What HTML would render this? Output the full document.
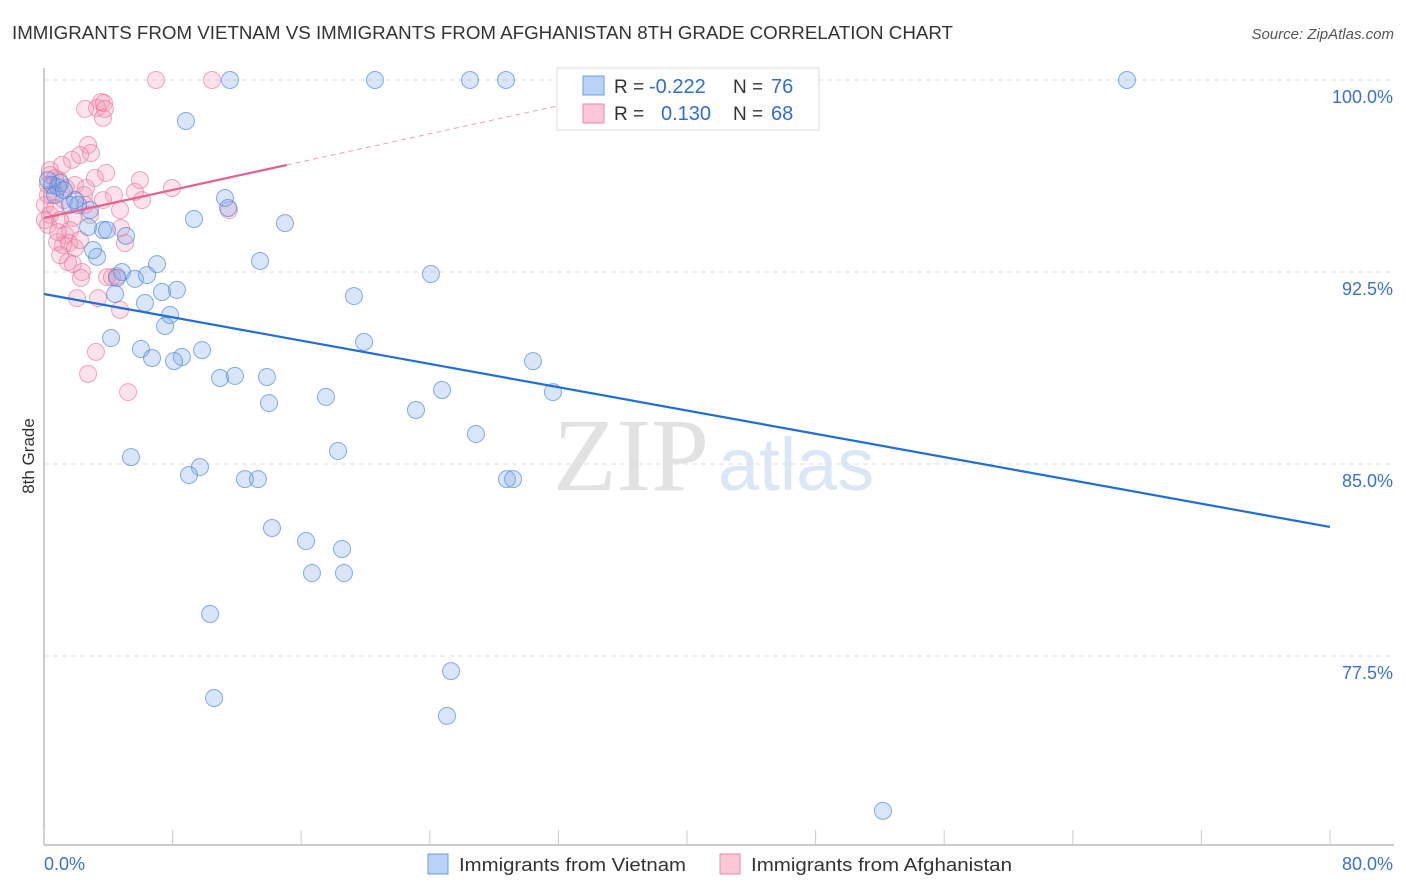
<!DOCTYPE html>
<html><head><meta charset="utf-8">
<style>
body{margin:0;background:#fff;width:1406px;height:892px;overflow:hidden;font-family:"Liberation Sans",sans-serif;}
svg{display:block}
</style></head>
<body>
<svg id="chart" width="1406" height="892">
<text x="12" y="39" font-size="18" fill="#333" textLength="941" lengthAdjust="spacingAndGlyphs">IMMIGRANTS FROM VIETNAM VS IMMIGRANTS FROM AFGHANISTAN 8TH GRADE CORRELATION CHART</text>
<text x="1394" y="39" font-size="15" fill="#555" font-style="italic" text-anchor="end">Source: ZipAtlas.com</text>
<g>
<text x="553" y="490" font-family="Liberation Serif,serif" font-size="104" fill="#e2e2e2">ZIP</text>
<text x="718" y="490" font-size="74" fill="#dbe6f6">atlas</text>
</g>
<g id="grid"></g>
<g id="axes"></g>
<g id="marks"></g>
<text transform="translate(34,456) rotate(-90)" font-size="17" fill="#333" text-anchor="middle">8th Grade</text>
<g>
<rect x="557" y="68" width="262" height="62" fill="#fff" stroke="#ddd"/>
<rect x="583" y="76" width="21" height="19" fill="#b8d3f7" stroke="#6b9de0"/>
<rect x="583" y="104" width="21" height="19" fill="#fcc6d6" stroke="#e88aa8"/>
<text x="614" y="93" font-size="19" fill="#333">R =</text>
<text x="649" y="93" font-size="20" fill="#2f6fd0">-0.222</text>
<text x="733" y="93" font-size="19" fill="#333">N =</text>
<text x="771" y="93" font-size="20" fill="#2f6fd0">76</text>
<text x="614" y="120" font-size="19" fill="#333">R =</text>
<text x="661" y="120" font-size="20" fill="#2f6fd0">0.130</text>
<text x="733" y="120" font-size="19" fill="#333">N =</text>
<text x="771" y="120" font-size="20" fill="#2f6fd0">68</text>
</g>
<g>
<rect x="428" y="854" width="20" height="20" fill="#b8d3f7" stroke="#6b9de0"/>
<text x="459" y="871" font-size="18" fill="#333" textLength="227" lengthAdjust="spacingAndGlyphs">Immigrants from Vietnam</text>
<rect x="720" y="854" width="20" height="20" fill="#fcc6d6" stroke="#e88aa8"/>
<text x="751" y="871" font-size="18" fill="#333" textLength="261" lengthAdjust="spacingAndGlyphs">Immigrants from Afghanistan</text>
</g>
</svg>
<script>
const yTicks=[100,92.5,85,77.5];
const yTickLabels=["100.0%","92.5%","85.0%","77.5%"];
const xTicks=[0,8,16,24,32,40,48,56,64,72,80];
const xEndLabels=["0.0%","80.0%"];
const vietX=[11.57,20.59,26.5,28.74,43.17,67.37,8.83,11.26,11.45,9.33,14.99,0.5,0.87,1.62,2.12,2.74,3.67,3.92,5.1,3.3,3.05,13.44,7.03,24.07,4.85,4.54,5.66,6.41,8.27,7.34,4.42,6.28,19.28,7.84,7.53,4.17,19.91,6.03,6.72,9.83,8.58,8.09,30.42,10.95,11.88,13.87,24.76,31.66,17.54,14.0,23.14,26.87,18.29,5.41,9.7,9.02,12.5,13.31,28.8,29.18,14.18,16.3,18.54,16.67,18.66,10.33,25.32,10.58,25.07,52.19,1.0,0.68,1.93,1.24,0.25,2.86];
const vietY=[100,100,100,100,100,100,98.4,95.39,95.0,94.57,94.41,95.9,95.82,95.12,95.12,94.26,94.14,94.14,93.91,93.09,93.36,92.93,92.81,92.42,92.5,92.27,92.23,92.38,91.8,91.72,91.64,91.29,91.56,90.82,90.39,89.92,89.77,89.49,89.14,89.45,89.18,89.02,89.02,88.36,88.44,88.4,87.89,87.81,87.62,87.38,87.11,86.17,85.51,85.27,84.88,84.57,84.41,84.41,84.41,84.41,82.5,81.99,81.68,80.74,80.74,79.14,76.91,75.86,75.16,71.45,95.98,95.51,95.31,95.7,96.09,94.92];
const afgX=[6.97,10.45,3.55,3.3,3.73,3.67,2.55,3.79,2.74,2.92,1.74,2.24,1.12,0.37,0.93,3.17,3.86,1.93,0.5,2.49,4.35,5.66,6.1,7.96,11.51,0.06,0.37,0.25,1.0,1.8,2.55,1.31,1.62,1.18,0.81,1.56,1.93,1.49,1.8,2.36,2.3,4.79,5.04,2.05,3.36,3.92,4.73,4.23,3.23,2.74,5.23,0.68,0.25,1.24,0.68,0.25,2.24,1.0,2.86,0.37,1.37,4.54,3.67,4.73,2.61,5.97,0.06,0.87];
const afgY=[100,100,99.14,98.91,99.1,98.52,98.87,98.87,97.46,97.15,96.88,97.07,96.68,96.29,96.09,96.17,96.37,95.9,95.51,95.51,95.51,95.63,95.31,95.78,94.92,95.12,94.73,94.34,94.53,94.61,95.12,93.95,94.14,93.55,93.67,93.63,93.44,92.89,92.81,92.5,92.27,94.22,93.63,91.48,91.48,92.3,91.02,92.3,89.38,88.52,87.81,96.17,95.9,95.31,95.0,95.51,93.75,93.16,94.73,96.48,95.78,92.34,95.31,94.92,95.78,96.09,94.53,94.06];
const vietTrendX=[0,80];
const vietTrendY=[91.64,82.54];
const afgTrendX=[0,15.1];
const afgTrendY=[94.61,96.68];
const afgDashX=[15.1,34];
const afgDashY=[96.68,99.27];

const X0=44,X1=1330,Y100=80,PXPER=25.6;
const sx=v=>X0+v/80*(X1-X0);
const sy=v=>Y100+(100-v)*PXPER;
const NS="http://www.w3.org/2000/svg";
function mk(tag,attrs,parent){const e=document.createElementNS(NS,tag);for(const k in attrs)e.setAttribute(k,attrs[k]);parent.appendChild(e);return e;}
const grid=document.getElementById('grid'),axes=document.getElementById('axes'),marks=document.getElementById('marks');
yTicks.forEach((t,i)=>{
  const l=mk('line',{x1:X0,x2:1394,y1:sy(t),y2:sy(t),stroke:'#ddd','stroke-dasharray':'5,4'},grid);
  
  
  const tx=mk('text',{x:1393,y:sy(t)+23,'font-size':18,fill:'#3b72cc','text-anchor':'end'},axes);
  tx.textContent=yTickLabels[i];
  
  
});
const ya=mk('line',{x1:X0,x2:X0,y1:68,y2:845,stroke:'#bbb','stroke-width':1.5},axes);


const xa=mk('line',{x1:X0,x2:1394,y1:845,y2:845,stroke:'#bbb','stroke-width':1.5},axes);


xTicks.forEach(t=>{
  const l=mk('line',{x1:sx(t),x2:sx(t),y1:830,y2:845,stroke:'#ccc'},axes);
  
  
});
const xl0=mk('text',{x:44,y:870,'font-size':18,fill:'#3b72cc'},axes);xl0.textContent=xEndLabels[0];


const xl1=mk('text',{x:1393,y:870,'font-size':18,fill:'#3b72cc','text-anchor':'end'},axes);xl1.textContent=xEndLabels[1];



afgX.forEach((v,i)=>{
  const c=mk('circle',{cx:sx(v),cy:sy(afgY[i]),r:8.5,fill:'rgba(246,150,180,0.28)',stroke:'rgba(232,110,150,0.6)','stroke-width':1},marks);
  
  
});
vietX.forEach((v,i)=>{
  const c=mk('circle',{cx:sx(v),cy:sy(vietY[i]),r:8.5,fill:'rgba(120,165,235,0.28)',stroke:'rgba(70,130,220,0.65)','stroke-width':1},marks);
  
  
});
const vt=mk('line',{x1:sx(vietTrendX[0]),y1:sy(vietTrendY[0]),x2:sx(vietTrendX[1]),y2:sy(vietTrendY[1]),stroke:'#1f6fd6','stroke-width':2.2},marks);


const at=mk('line',{x1:sx(afgTrendX[0]),y1:sy(afgTrendY[0]),x2:sx(afgTrendX[1]),y2:sy(afgTrendY[1]),stroke:'#e8608d','stroke-width':2.2},marks);


const ad=mk('line',{x1:sx(afgDashX[0]),y1:sy(afgDashY[0]),x2:sx(afgDashX[1]),y2:sy(afgDashY[1]),stroke:'#eaa0b8','stroke-width':1,'stroke-dasharray':'5,4'},marks);


</script>
</body></html>
